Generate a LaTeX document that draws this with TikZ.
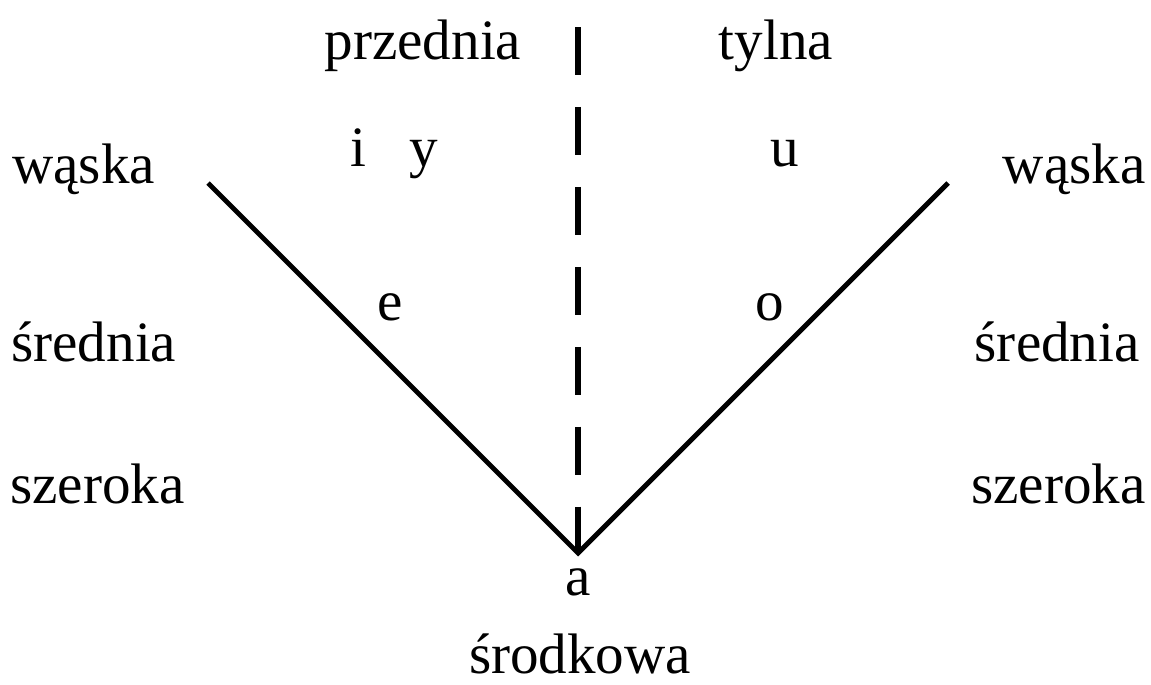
\documentclass[tikz,border=0pt]{standalone}
\usepackage{fontspec}
\setmainfont{Liberation Serif}
\usepackage{tikz}
\usetikzlibrary{positioning, calc}

\begin{document}
\begin{tikzpicture}[x=0.02cm, y=-0.02cm,
	txt/.style={anchor=base, inner sep=0pt, font=\fontsize{32.5}{36}\selectfont},
	vline/.style={line width=2.8pt, line join=miter},
	divider/.style={line width=3.8pt, dash pattern=on 27.3pt off 18.2pt}]
	\useasboundingbox (0,0) rectangle (1151,684);
	% the V and the divider
	\coordinate (lt) at (208,183);
	\coordinate (rt) at (948,183);
	\coordinate (bot) at (578,553);
	\coordinate (dtop) at (578,27);
	\draw[divider] (dtop) -- (bot);
	\draw[vline] (lt) -- (bot) -- (rt);
	% column heads
	\node[txt] (front) at (423,59) {przednia};
	\node[txt] (back) at (776,59) {tylna};
	% rows, left and right
	\node[txt, anchor=base west] (narrowl) at (12,183) {wąska};
	\node[txt, anchor=base east] (narrowr) at (1146,183) {wąska};
	\node[txt, anchor=base west] (midl) at (11,361) {średnia};
	\node[txt, anchor=base east] (midr) at (1140,361) {średnia};
	\node[txt, anchor=base west] (openl) at (10,503) {szeroka};
	\node[txt, anchor=base east] (openr) at (1146,503) {szeroka};
	% vowels
	\node[txt] (iy) at (394,166) {i\hspace{0.75em}y};
	\node[txt] (u) at (785,166) {u};
	\node[txt] (e) at (390,320) {e};
	\node[txt] (o) at (770,320) {o};
	\node[txt] (a) at (578,595) {a};
	\node[txt] (central) at (580,673) {środkowa};
\end{tikzpicture}
\end{document}
